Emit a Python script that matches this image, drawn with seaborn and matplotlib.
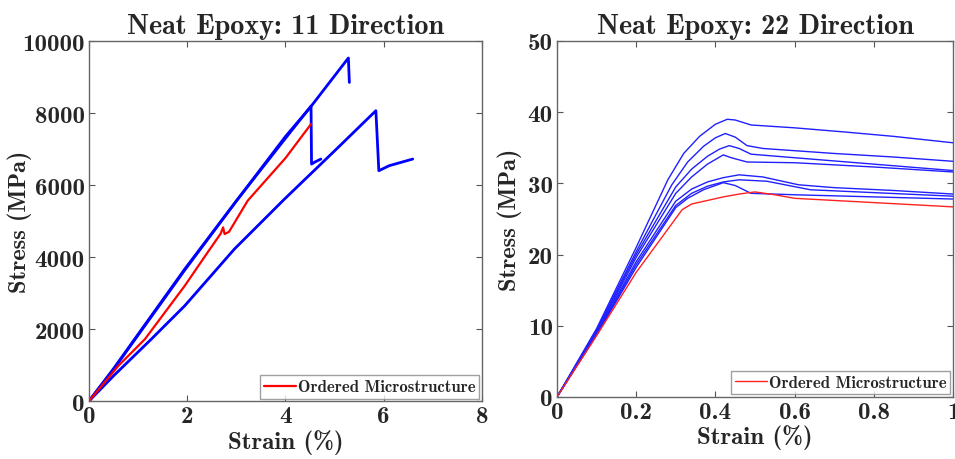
import pandas as pd
import seaborn as sns
import matplotlib.pyplot as plt

# 11 direction: strain (%) vs stress (MPa)
strain_11_a = [0, 0.5, 0.93, 1.95, 3.03, 4.0, 4.5, 5.28, 5.3]
stress_11_a = [0, 900, 1722, 3667, 5611, 7350, 8150, 9530, 8850]
strain_11_b = [0, 0.5, 0.93, 1.95, 3.0, 4.0, 4.52, 4.53, 4.6, 4.72]
stress_11_b = [0, 880, 1700, 3640, 5560, 7300, 8194, 6583, 6640, 6722]
strain_11_c = [0, 0.5, 1.27, 1.95, 2.96, 3.98, 5.0, 5.84, 5.9, 6.11, 6.59]
stress_11_c = [0, 700, 1722, 2648, 4222, 5611, 6950, 8065, 6398, 6537, 6722]
strain_11_red = [0, 0.6, 1.14, 1.95, 2.4, 2.68, 2.73, 2.76, 2.85, 3.23, 4.0, 4.52]
stress_11_red = [0, 981, 1722, 3203, 4100, 4650, 4824, 4639, 4700, 5565, 6750, 7694]

# 22 direction
strain_22_a = [0, 0.1, 0.2, 0.28, 0.32, 0.36, 0.40, 0.43, 0.45, 0.49, 0.6, 0.73, 0.85, 1.0]
stress_22_a = [0, 9.6, 21.0, 30.5, 34.2, 36.6, 38.3, 39.0, 38.9, 38.2, 37.8, 37.2, 36.6, 35.7]
strain_22_b = [0, 0.1, 0.2, 0.29, 0.33, 0.37, 0.40, 0.425, 0.45, 0.48, 0.52, 0.7, 0.85, 1.0]
stress_22_b = [0, 9.4, 20.4, 29.8, 33.0, 35.2, 36.4, 37.0, 36.5, 35.3, 34.9, 34.2, 33.7, 33.1]
strain_22_c = [0, 0.1, 0.2, 0.3, 0.34, 0.38, 0.41, 0.435, 0.46, 0.49, 0.6, 0.8, 1.0]
stress_22_c = [0, 9.2, 20.0, 29.5, 32.0, 33.8, 34.8, 35.3, 34.9, 34.1, 33.6, 32.7, 31.8]
strain_22_d = [0, 0.1, 0.2, 0.3, 0.34, 0.38, 0.42, 0.44, 0.48, 0.6, 0.8, 1.0]
stress_22_d = [0, 9.0, 19.6, 28.6, 30.9, 32.7, 34.0, 33.6, 33.0, 32.9, 32.3, 31.6]
strain_22_e = [0, 0.1, 0.2, 0.3, 0.34, 0.38, 0.42, 0.46, 0.52, 0.61, 0.7, 0.85, 1.0]
stress_22_e = [0, 8.9, 19.0, 27.5, 29.2, 30.2, 30.8, 31.2, 30.9, 29.8, 29.4, 29.0, 28.5]
strain_22_f = [0, 0.1, 0.2, 0.3, 0.34, 0.38, 0.42, 0.46, 0.53, 0.64, 0.8, 1.0]
stress_22_f = [0, 8.8, 18.6, 26.9, 28.6, 29.6, 30.2, 30.5, 30.3, 29.1, 28.7, 28.2]
strain_22_g = [0, 0.1, 0.2, 0.3, 0.33, 0.37, 0.42, 0.45, 0.49, 0.6, 0.8, 1.0]
stress_22_g = [0, 8.7, 18.2, 26.6, 27.9, 29.1, 30.1, 29.7, 28.6, 28.4, 28.1, 27.8]
strain_22_red = [0, 0.1, 0.2, 0.316, 0.34, 0.38, 0.42, 0.46, 0.5, 0.55, 0.6, 0.7, 0.8, 0.9, 1.0]
stress_22_red = [0, 8.6, 17.5, 26.3, 27.1, 27.6, 28.1, 28.5, 28.8, 28.4, 27.9, 27.6, 27.3, 27.0, 26.7]


def long_form(curves):
    frames = []
    for name, (x, y) in curves.items():
        frames.append(pd.DataFrame({"strain": x, "stress": y, "specimen": name}))
    return pd.concat(frames, ignore_index=True)


blue_11 = long_form({"a": (strain_11_a, stress_11_a),
                     "b": (strain_11_b, stress_11_b),
                     "c": (strain_11_c, stress_11_c)})
red_11 = long_form({"ordered": (strain_11_red, stress_11_red)})
blue_22 = long_form({"a": (strain_22_a, stress_22_a), "b": (strain_22_b, stress_22_b),
                     "c": (strain_22_c, stress_22_c), "d": (strain_22_d, stress_22_d),
                     "e": (strain_22_e, stress_22_e), "f": (strain_22_f, stress_22_f),
                     "g": (strain_22_g, stress_22_g)})
red_22 = long_form({"ordered": (strain_22_red, stress_22_red)})

sns.set_style("ticks")
plt.rcParams["font.family"] = ["cmb10", "DejaVu Serif"]
plt.rcParams["axes.unicode_minus"] = False

fig = plt.figure(figsize=(9.55, 4.6), dpi=100)
ax1 = fig.add_axes([0.0932, 0.126, 0.4115, 0.7826])
ax2 = fig.add_axes([0.5832, 0.1348, 0.4147, 0.774])


def style_axes(ax, title, ylab_x):
    ax.set_title(title, fontsize=20.3, pad=6)
    ax.set_xlabel("Strain (%)", fontsize=18, labelpad=1)
    ax.set_ylabel("Stress (MPa)", fontsize=17.5)
    ax.yaxis.set_label_coords(ylab_x, 0.5)
    ax.tick_params(direction="in", top=True, right=True, labelsize=18,
                   length=4, width=0.8, color="#555555", pad=3)
    for s in ax.spines.values():
        s.set_color("#666666")
        s.set_linewidth(1.0)


def add_legend(ax):
    leg = ax.legend(loc="lower right", fontsize=12, handlelength=1.9, handletextpad=0.1,
                    borderaxespad=0.15, fancybox=False, borderpad=0.25)
    leg.get_frame().set_edgecolor("#888888")


# 11 direction
sns.lineplot(data=blue_11, x="strain", y="stress", units="specimen", estimator=None,
             sort=False, color="#0000ff", lw=2.0, ax=ax1)
sns.lineplot(data=red_11, x="strain", y="stress", estimator=None, sort=False,
             color="#ff0000", lw=1.6, ax=ax1, label="Ordered Microstructure")
ax1.set_xlim(0, 8)
ax1.set_ylim(0, 10000)
ax1.set_xticks([0, 2, 4, 6, 8])
ax1.set_yticks([0, 2000, 4000, 6000, 8000, 10000])
style_axes(ax1, "Neat Epoxy: 11 Direction", -0.145)
add_legend(ax1)

# 22 direction
sns.lineplot(data=blue_22, x="strain", y="stress", units="specimen", estimator=None,
             sort=False, color="#2020ff", lw=1.0, ax=ax2)
sns.lineplot(data=red_22, x="strain", y="stress", estimator=None, sort=False,
             color="#ff2020", lw=1.0, ax=ax2, label="Ordered Microstructure")
ax2.set_xlim(0, 1)
ax2.set_ylim(0, 50)
ax2.set_xticks([0, 0.2, 0.4, 0.6, 0.8, 1])
ax2.set_xticklabels(["0", "0.2", "0.4", "0.6", "0.8", "1"])
ax2.set_yticks([0, 10, 20, 30, 40, 50])
style_axes(ax2, "Neat Epoxy: 22 Direction", -0.088)
add_legend(ax2)

fig.savefig("out.png", dpi=100)
